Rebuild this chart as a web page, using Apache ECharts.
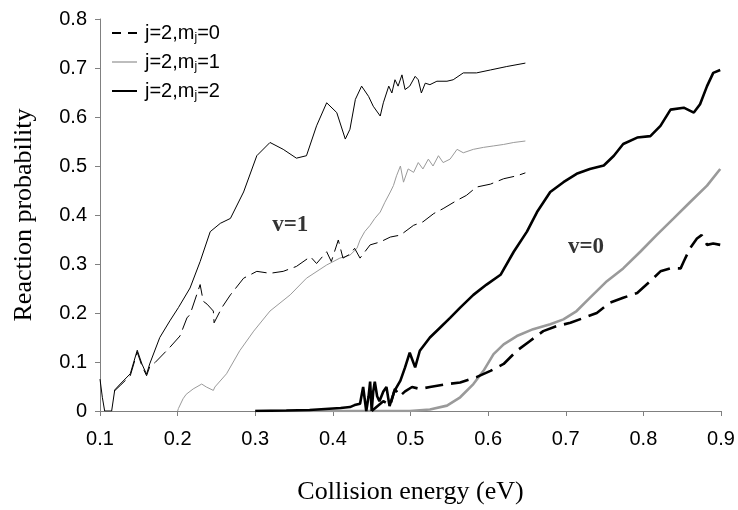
<!DOCTYPE html>
<html>
<head>
<meta charset="utf-8">
<script src="https://cdn.jsdelivr.net/npm/echarts@6/dist/echarts.min.js"></script>
<style>html,body{margin:0;padding:0;background:#fff}#c{width:738px;height:510px}</style>
</head>
<body>
<div id="c"></div>
<script>
// x ticks / y ticks
const xTicks = [0.1, 0.2, 0.3, 0.4, 0.5, 0.6, 0.7, 0.8, 0.9];
const yTicks = [0, 0.1, 0.2, 0.3, 0.4, 0.5, 0.6, 0.7, 0.8];
const legendNames = ['j=2,mj=0', 'j=2,mj=1', 'j=2,mj=2'];

// v=1 curves (thin)
const v1_m2 = [[0.1,0.065],[0.103,0.028],[0.106,0],[0.115,0],[0.119,0.043],[0.126,0.055],[0.139,0.076],[0.148,0.124],[0.154,0.096],[0.16,0.075],[0.164,0.096],[0.177,0.15],[0.19,0.184],[0.201,0.211],[0.216,0.251],[0.229,0.305],[0.242,0.366],[0.255,0.383],[0.268,0.393],[0.285,0.447],[0.302,0.521],[0.319,0.548],[0.336,0.534],[0.353,0.516],[0.366,0.521],[0.379,0.582],[0.392,0.629],[0.405,0.609],[0.416,0.555],[0.422,0.575],[0.429,0.636],[0.437,0.663],[0.446,0.642],[0.452,0.622],[0.461,0.602],[0.465,0.629],[0.472,0.663],[0.476,0.649],[0.48,0.676],[0.484,0.663],[0.489,0.686],[0.493,0.656],[0.499,0.663],[0.506,0.683],[0.51,0.676],[0.514,0.649],[0.519,0.669],[0.525,0.666],[0.534,0.673],[0.547,0.673],[0.555,0.676],[0.568,0.69],[0.585,0.69],[0.603,0.696],[0.624,0.703],[0.648,0.71]];
const v1_m1 = [[0.2,0.0],[0.201,0.005],[0.207,0.025],[0.211,0.034],[0.22,0.045],[0.231,0.055],[0.237,0.049],[0.246,0.042],[0.248,0.049],[0.263,0.076],[0.28,0.123],[0.298,0.163],[0.319,0.204],[0.345,0.237],[0.366,0.271],[0.392,0.298],[0.409,0.312],[0.422,0.318],[0.431,0.332],[0.435,0.349],[0.441,0.366],[0.448,0.379],[0.454,0.393],[0.461,0.406],[0.467,0.426],[0.474,0.447],[0.478,0.46],[0.482,0.48],[0.487,0.5],[0.491,0.467],[0.497,0.494],[0.504,0.487],[0.51,0.507],[0.516,0.494],[0.523,0.514],[0.529,0.5],[0.536,0.521],[0.542,0.507],[0.551,0.514],[0.56,0.534],[0.568,0.527],[0.581,0.534],[0.594,0.538],[0.607,0.541],[0.62,0.544],[0.633,0.548],[0.648,0.551]];
const v1_m0 = [[0.118,0.04],[0.126,0.052],[0.139,0.072],[0.148,0.12],[0.154,0.092],[0.16,0.072],[0.164,0.09],[0.171,0.099],[0.19,0.13],[0.203,0.153],[0.212,0.19],[0.216,0.197],[0.229,0.258],[0.233,0.224],[0.238,0.218],[0.246,0.204],[0.247,0.18],[0.257,0.211],[0.268,0.237],[0.285,0.271],[0.302,0.285],[0.319,0.281],[0.336,0.285],[0.353,0.295],[0.371,0.315],[0.379,0.301],[0.392,0.325],[0.398,0.305],[0.407,0.349],[0.413,0.312],[0.422,0.32],[0.428,0.332],[0.435,0.312],[0.448,0.339],[0.461,0.345],[0.474,0.355],[0.487,0.359],[0.504,0.379],[0.516,0.386],[0.53,0.403],[0.542,0.413],[0.56,0.43],[0.572,0.44],[0.585,0.457],[0.603,0.463],[0.62,0.474],[0.637,0.48],[0.648,0.486]];

// v=0 curves (thick)
const v0_m2 = [[0.3,0],[0.34,0.001],[0.37,0.002],[0.39,0.004],[0.41,0.006],[0.422,0.008],[0.428,0.012],[0.435,0.015],[0.439,0.049],[0.443,0.0],[0.446,0.03],[0.448,0.06],[0.45,0.0],[0.452,0.04],[0.454,0.06],[0.457,0.03],[0.46,0.02],[0.465,0.04],[0.469,0.049],[0.473,0.01],[0.479,0.04],[0.487,0.062],[0.493,0.089],[0.499,0.119],[0.506,0.089],[0.512,0.123],[0.525,0.15],[0.538,0.17],[0.551,0.19],[0.564,0.211],[0.581,0.237],[0.598,0.258],[0.616,0.278],[0.633,0.325],[0.65,0.366],[0.663,0.406],[0.68,0.447],[0.697,0.467],[0.714,0.484],[0.731,0.494],[0.749,0.501],[0.762,0.521],[0.774,0.545],[0.792,0.558],[0.809,0.561],[0.822,0.582],[0.835,0.615],[0.852,0.619],[0.865,0.609],[0.873,0.626],[0.882,0.663],[0.89,0.69],[0.899,0.696]];
const v0_m1 = [[0.3,0],[0.45,0],[0.499,0.0],[0.525,0.003],[0.547,0.011],[0.564,0.028],[0.581,0.055],[0.594,0.082],[0.607,0.116],[0.62,0.136],[0.637,0.153],[0.658,0.167],[0.68,0.177],[0.697,0.187],[0.714,0.204],[0.731,0.231],[0.753,0.265],[0.774,0.291],[0.796,0.325],[0.817,0.359],[0.839,0.393],[0.86,0.426],[0.882,0.46],[0.899,0.494]];
const v0_m0 = [[0.45,0.0],[0.465,0.02],[0.474,0.012],[0.48,0.045],[0.486,0.03],[0.493,0.04],[0.502,0.049],[0.512,0.045],[0.525,0.049],[0.547,0.055],[0.564,0.058],[0.585,0.069],[0.603,0.082],[0.62,0.096],[0.637,0.123],[0.654,0.143],[0.671,0.163],[0.688,0.173],[0.706,0.18],[0.723,0.19],[0.74,0.2],[0.757,0.221],[0.774,0.231],[0.792,0.241],[0.809,0.265],[0.822,0.285],[0.835,0.291],[0.848,0.291],[0.852,0.305],[0.86,0.332],[0.869,0.352],[0.875,0.359],[0.882,0.339],[0.89,0.342],[0.899,0.339]];

// annotations
const annotations = [[0.345, 0.38, 'v=1'], [0.726, 0.335, 'v=0']];

const chart = echarts.init(document.getElementById('c'));
const thin = 1, thick = 2.6;
const grey = '#9a9a9a';
function line(name, data, color, width, type) {
  return { name, type: 'line', data, symbol: 'none', silent: true,
    lineStyle: { color, width, type }, itemStyle: { color } };
}
const dashIcon = 'path://M0,0h9v2h-9z M16,0h9v2h-9z';
const solidIcon = 'path://M0,0h25v2h-25z';
chart.setOption({
  animation: false,
  backgroundColor: '#fff',
  grid: { left: 100, right: 17, top: 19, bottom: 96 },
  legend: {
    orient: 'vertical', left: 107, top: 18, itemWidth: 25, itemHeight: 2, itemGap: 8,
    data: [
      { name: legendNames[0], icon: dashIcon, itemStyle: { color: '#000' } },
      { name: legendNames[1], icon: solidIcon, itemStyle: { color: '#bdbdbd' } },
      { name: legendNames[2], icon: solidIcon, itemStyle: { color: '#000' } }
    ],
    formatter: n => n.replace('mj', 'm{s|j}'),
    textStyle: { fontFamily: 'Liberation Sans', fontSize: 20, color: '#000', padding: [0, 0, 0, 3],
      rich: { s: { fontFamily: 'Liberation Sans', fontSize: 12, color: '#000', padding: [10, 0, 0, 0] } } }
  },
  xAxis: {
    type: 'value', min: xTicks[0], max: xTicks[xTicks.length - 1], interval: 0.1,
    name: 'Collision energy (eV)', nameLocation: 'middle', nameGap: 68,
    nameTextStyle: { fontFamily: 'Liberation Serif', fontSize: 26, color: '#000' },
    axisLine: { lineStyle: { color: '#808080', width: 1 } },
    axisTick: { show: true, length: 5, lineStyle: { color: '#808080' } },
    axisLabel: { margin: 18, fontFamily: 'Liberation Sans', fontSize: 20, color: '#000',
      formatter: v => (Math.round(v * 10) / 10).toString() },
    splitLine: { show: false }
  },
  yAxis: {
    type: 'value', min: yTicks[0], max: yTicks[yTicks.length - 1], interval: 0.1,
    name: 'Reaction probability', nameLocation: 'middle', nameGap: 63,
    nameTextStyle: { fontFamily: 'Liberation Serif', fontSize: 26, color: '#000' },
    axisLine: { show: true, lineStyle: { color: '#808080', width: 1 } },
    axisTick: { show: true, length: 5, lineStyle: { color: '#808080' } },
    axisLabel: { margin: 13, fontFamily: 'Liberation Sans', fontSize: 20, color: '#000',
      formatter: v => (Math.round(v * 10) / 10).toString() },
    splitLine: { show: false }
  },
  series: [
    line('v1m1', v1_m1, grey, thin, 'solid'),
    line('v1m0', v1_m0, '#000', thin, [16, 6]),
    line('v1m2', v1_m2, '#000', thin, 'solid'),
    line(legendNames[1], v0_m1, grey, thick, 'solid'),
    line(legendNames[0], v0_m0, '#000', thick, [18, 8]),
    line(legendNames[2], v0_m2, '#000', thick, 'solid'),
    { name: 'notes', type: 'scatter', symbolSize: 0, silent: true,
      data: annotations.map(a => ({ value: [a[0], a[1]], label: { formatter: a[2] } })),
      label: { show: true, position: 'inside', fontFamily: 'Liberation Serif', fontWeight: 'bold', fontSize: 23, color: '#000' } }
  ]
});
</script>
</body>
</html>
